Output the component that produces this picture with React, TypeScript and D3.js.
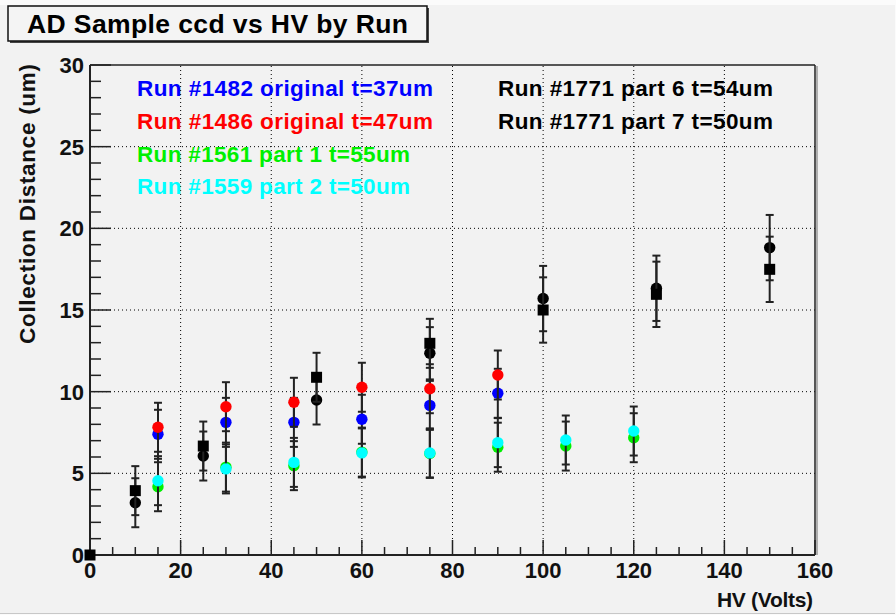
import React from "react";
import * as d3 from "d3";

// Run #1482 original t=37um
const run1482X = [15, 30, 45, 60, 75, 90];
const run1482Y = [7.39, 8.12, 8.12, 8.31, 9.16, 9.9];
const run1482Err = [1.5, 1.5, 1.5, 1.5, 1.5, 1.5];

// Run #1486 original t=47um
const run1486X = [15, 30, 45, 60, 75, 90];
const run1486Y = [7.82, 9.08, 9.35, 10.27, 10.18, 11.02];
const run1486Err = [1.5, 1.5, 1.5, 1.5, 1.5, 1.5];

// Run #1561 part 1 t=55um
const run1561X = [15, 30, 45, 60, 75, 90, 105, 120];
const run1561Y = [4.18, 5.38, 5.47, 6.3, 6.22, 6.6, 6.67, 7.18];
const run1561Err = [1.5, 1.5, 1.5, 1.5, 1.5, 1.5, 1.5, 1.5];

// Run #1559 part 2 t=50um
const run1559X = [15, 30, 45, 60, 75, 90, 105, 120];
const run1559Y = [4.55, 5.27, 5.67, 6.25, 6.25, 6.88, 7.04, 7.59];
const run1559Err = [1.5, 1.5, 1.5, 1.5, 1.5, 1.5, 1.5, 1.5];

// Run #1771 part 6 t=54um (circles)
const run1771p6X = [10, 25, 50, 75, 100, 125, 150];
const run1771p6Y = [3.2, 6.06, 9.49, 12.35, 15.7, 16.33, 18.82];
const run1771p6Err = [1.5, 1.5, 1.5, 1.6, 2.0, 2.0, 2.0];

// Run #1771 part 7 t=50um (squares)
const run1771p7X = [0, 10, 25, 50, 75, 100, 125, 150];
const run1771p7Y = [0, 3.94, 6.67, 10.88, 12.96, 15.0, 15.96, 17.49];
const run1771p7Err = [0, 1.5, 1.5, 1.5, 1.5, 2.0, 2.0, 2.0];

const legendLeft = [
  "Run #1482 original t=37um",
  "Run #1486 original t=47um",
  "Run #1561 part 1 t=55um",
  "Run #1559 part 2 t=50um",
];
const legendLeftColors = ["#0000ff", "#ff0000", "#00f000", "#00ffff"];
const legendRight = ["Run #1771 part 6 t=54um", "Run #1771 part 7 t=50um"];

const xTicks = [0, 20, 40, 60, 80, 100, 120, 140, 160];
const yTicks = [0, 5, 10, 15, 20, 25, 30];

const W = 896;
const H = 615;
const FONT = "'Liberation Sans', Arial, Helvetica, sans-serif";

type Series = {
  xs: number[];
  ys: number[];
  errs: number[];
  color: string;
  shape: "circle" | "square";
};

const series: Series[] = [
  { xs: run1482X, ys: run1482Y, errs: run1482Err, color: "#0000ff", shape: "circle" },
  { xs: run1486X, ys: run1486Y, errs: run1486Err, color: "#ff0000", shape: "circle" },
  { xs: run1561X, ys: run1561Y, errs: run1561Err, color: "#00f000", shape: "circle" },
  { xs: run1559X, ys: run1559Y, errs: run1559Err, color: "#00ffff", shape: "circle" },
  { xs: run1771p6X, ys: run1771p6Y, errs: run1771p6Err, color: "#000000", shape: "circle" },
  { xs: run1771p7X, ys: run1771p7Y, errs: run1771p7Err, color: "#000000", shape: "square" },
];

export default function App() {
  const x = d3.scaleLinear().domain([0, 160]).range([90, 815]);
  const y = d3.scaleLinear().domain([0, 30]).range([555, 65]);
  const [x0, x1] = x.range();
  const [y0, y1] = y.range();

  const xMinor = d3.range(0, 160.001, 5);
  const yMinor = d3.range(0, 30.001, 1);

  return (
    <svg
      width={W}
      height={H}
      style={{ position: "absolute", left: 0, top: 0 }}
      fontFamily={FONT}
    >
      <rect x={0} y={0} width={W} height={H} fill="#fbfbfb" />
      <rect x={0} y={5} width={895} height={609} fill="#f2f2f2" />
      <line x1={0} x2={895} y1={613.5} y2={613.5} stroke="#c8c8c8" />

      {/* grid */}
      {xTicks
        .filter((t) => t > 0 && t < 160)
        .map((t) => (
          <line
            key={"gx" + t}
            x1={x(t)}
            x2={x(t)}
            y1={y0}
            y2={y1}
            stroke="#000"
            strokeWidth={1}
            strokeDasharray="1 3"
          />
        ))}
      {yTicks
        .filter((t) => t > 0 && t < 30)
        .map((t) => (
          <line
            key={"gy" + t}
            x1={x0}
            x2={x1}
            y1={y(t)}
            y2={y(t)}
            stroke="#000"
            strokeWidth={1}
            strokeDasharray="1 3"
          />
        ))}

      {/* frame */}
      <line x1={x0} x2={x1} y1={y1} y2={y1} stroke="#222" strokeWidth={1.5} />
      <line x1={x1 + 2} x2={x1 + 2} y1={y1 + 1} y2={y0} stroke="#999" strokeWidth={1.5} />
      <line x1={x1} x2={x1} y1={y1} y2={y0} stroke="#222" strokeWidth={1.5} />

      {/* x axis ticks */}
      {xMinor.map((t) => {
        const major = t % 20 === 0;
        return (
          <line
            key={"xt" + t}
            x1={x(t)}
            x2={x(t)}
            y1={y0}
            y2={y0 - (major ? 15 : 8)}
            stroke="#222"
            strokeWidth={1.5}
          />
        );
      })}
      {/* y axis ticks */}
      {yMinor.map((t) => {
        const major = t % 5 === 0;
        return (
          <line
            key={"yt" + t}
            x1={x0}
            x2={x0 + (major ? 21 : 11)}
            y1={y(t)}
            y2={y(t)}
            stroke="#222"
            strokeWidth={1.5}
          />
        );
      })}
      <line x1={x0} x2={x0} y1={y1} y2={y0} stroke="#222" strokeWidth={2} />
      <line x1={x0} x2={x1} y1={y0} y2={y0} stroke="#222" strokeWidth={2} />

      {/* tick labels */}
      {xTicks.map((t) => (
        <text
          key={"xl" + t}
          x={x(t)}
          y={578}
          textAnchor="middle"
          fontSize={22}
          fontWeight="bold"
          fill="#111"
        >
          {t}
        </text>
      ))}
      {yTicks.map((t) => (
        <text
          key={"yl" + t}
          x={84}
          y={y(t) + 8}
          textAnchor="end"
          fontSize={22}
          fontWeight="bold"
          fill="#111"
        >
          {t}
        </text>
      ))}

      {/* axis titles */}
      <text
        x={813}
        y={607}
        textAnchor="end"
        fontSize={21}
        fontWeight="bold"
        fill="#111"
        textLength={96}
        lengthAdjust="spacing"
      >
        HV (Volts)
      </text>
      <text
        transform={`translate(35, 64) rotate(-90)`}
        textAnchor="end"
        fontSize={22.5}
        fontWeight="bold"
        fill="#111"
        textLength={280}
        lengthAdjust="spacing"
      >
        Collection Distance (um)
      </text>

      {/* data: error bars then markers, series by series */}
      {series.map((s, si) => (
        <g key={"s" + si}>
          {s.xs.map((xv, i) => {
            const e = s.errs[i];
            if (!e) return null;
            const cx = x(xv);
            const top = y(s.ys[i] + e);
            const bot = y(s.ys[i] - e);
            return (
              <g key={"e" + i} stroke="#222" strokeWidth={2}>
                <line x1={cx} x2={cx} y1={top} y2={bot} />
                <line x1={cx - 4} x2={cx + 4} y1={top} y2={top} />
                <line x1={cx - 4} x2={cx + 4} y1={bot} y2={bot} />
              </g>
            );
          })}
          {s.xs.map((xv, i) =>
            s.shape === "circle" ? (
              <circle
                key={"m" + i}
                cx={x(xv)}
                cy={y(s.ys[i])}
                r={5.7}
                fill={s.color}
              />
            ) : (
              <rect
                key={"m" + i}
                x={x(xv) - 5.5}
                y={y(s.ys[i]) - 5.5}
                width={11}
                height={11}
                fill={s.color}
              />
            )
          )}
        </g>
      ))}

      {/* legend text */}
      {legendLeft.map((t, i) => (
        <text
          key={"ll" + i}
          x={137}
          y={[96, 129, 162, 194][i]}
          fontSize={22.5}
          fontWeight="bold"
          fill={legendLeftColors[i]}
          textLength={[296, 296, 273, 273][i]}
          lengthAdjust="spacing"
        >
          {t}
        </text>
      ))}
      {legendRight.map((t, i) => (
        <text
          key={"lr" + i}
          x={498}
          y={[96, 129][i]}
          fontSize={22.5}
          fontWeight="bold"
          fill="#000"
          textLength={275}
          lengthAdjust="spacing"
        >
          {t}
        </text>
      ))}

      {/* title box */}
      <rect x={10} y={8} width={419} height={35} fill="#444" />
      <rect x={8} y={6} width={419} height={35} fill="#f4f4f4" stroke="#111" strokeWidth={1.5} />
      <text
        x={27}
        y={33}
        fontSize={26.5}
        fontWeight="bold"
        fill="#000"
        textLength={381}
        lengthAdjust="spacing"
      >
        AD Sample ccd vs HV by Run
      </text>
    </svg>
  );
}
